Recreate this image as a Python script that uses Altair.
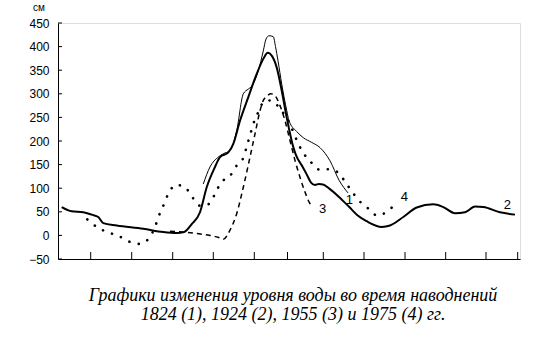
import altair as alt
import pandas as pd

# 1824 (1) thin solid
x1 = [145.3, 152, 160.3, 165.3, 172, 178.7, 185.3, 190.3, 193.7, 200.3, 205.3, 208, 211, 215.3, 217.5, 220, 223.7, 228.7, 231, 238.7, 245.3, 253.7, 262, 272, 281.3, 290]
y1 = [109, 145, 166, 173, 180, 222, 300, 310, 316, 349, 391, 416, 423, 421, 400, 370, 321, 265, 243, 220, 207, 197, 186, 158, 116, 90]

# 1924 (2) thick solid
x2 = [3.7, 13.7, 25.3, 33.7, 40.3, 45.3, 58.7, 85.3, 105.3, 118.7, 126, 133.7, 142, 148.7, 157, 162, 170.3, 175.3, 182, 190.3, 198.7, 205.3, 209.7, 213.7, 218.7, 223.7, 228.7, 235.3, 238, 244.7, 249, 253, 257, 261, 265, 271.3, 281.3, 291.3, 299.7, 308.7, 323.7, 332, 345.3, 358.7, 375.3, 385.3, 397, 407, 417, 425.3, 442, 457]
y2 = [60, 51, 49, 44, 39, 26, 21, 14, 7, 5, 7, 24, 49, 102, 145, 166, 176, 194, 243, 293, 342, 374, 387, 381, 356, 307, 250, 187, 170, 145, 128, 112, 107, 109, 108, 99, 81, 60, 42, 30, 18, 21, 39, 59, 66, 60, 47, 49, 61, 60, 49, 44]

# 1955 (3) dashed
x3 = [112, 125.3, 138.7, 152, 160, 165.3, 172, 178.7, 185.3, 192, 197, 202, 205.3, 208, 213, 217, 222, 227, 232, 237, 242, 247, 251.3, 254.7]
y3 = [9, 7, 4, 0, -4, -8, 11, 46, 102, 166, 215, 264, 286, 293, 300, 296, 275, 243, 201, 159, 123, 92, 70, 60]

# 1975 (4) dotted
x4 = [29.3, 38.7, 49.3, 60.3, 71, 82, 91.3, 97, 101, 105.3, 110.3, 118, 127, 134.3, 142, 151.3, 157, 162.7, 172, 178.7, 185.3, 188.7, 192, 195.3, 200.3, 205.3, 210, 217, 220.3, 225, 230.3, 235.3, 240.3, 245.3, 253, 262, 270, 279.7, 287.3, 294, 301.3, 309.7, 319.3, 329.3, 338]
y4 = [34, 18, 7, -1, -13, -18, -5, 18, 42, 63, 88, 107, 102, 81, 63, 67, 88, 111, 126, 148, 164, 188, 212, 236, 261, 282, 286, 282, 272, 260, 243, 219, 194, 175, 155, 139, 140, 134, 113, 93, 73, 58, 42, 51, 68]

# curve labels
label_text = ["1", "2", "3", "4"]
label_x = [291.3, 449.3, 264.7, 346.3]
label_y = [75, 65, 56, 82]

y_ticks = [-50, 0, 50, 100, 150, 200, 250, 300, 350, 400, 450]
x_ticks = [32.7, 73.7, 114.7, 155.3, 196.3, 229.5, 265.3, 306, 347, 387.7, 428, 459.7]

unit_label = "см"
caption = [
    "Графики изменения уровня воды во время наводнений",
    "1824 (1), 1924 (2), 1955 (3) и 1975 (4) гг.",
]

W, H = 462, 236
xs = alt.Scale(domain=[0, W], nice=False, zero=False)
ys = alt.Scale(domain=[-50, 450], nice=False, zero=False)
NARROW = "Liberation Sans Narrow, Arial Narrow, Liberation Sans, sans-serif"
SERIF = "Liberation Serif, Times New Roman, Times, serif"

X_AXIS = alt.Axis(values=x_ticks, ticks=False, labels=False, grid=False, domain=True,
                  domainColor="black", title=None)
Y_AXIS = alt.Axis(values=y_ticks, ticks=False, grid=False, domain=True, domainColor="black",
                  labelFont=NARROW, labelFontSize=12, labelColor="black", labelPadding=9,
                  title=None)


def line(xv, yv, **kw):
    df = pd.DataFrame({"x": xv, "y": yv})
    return alt.Chart(df).mark_line(color="black", interpolate="monotone", **kw).encode(
        x=alt.X("x:Q", scale=xs, axis=X_AXIS),
        y=alt.Y("y:Q", scale=ys, axis=Y_AXIS),
    )


y_tick_marks = alt.Chart(pd.DataFrame({"v": y_ticks})).mark_rule(color="black", strokeWidth=1).encode(
    x=alt.value(0), x2=alt.value(4),
    y=alt.Y("v:Q", scale=ys, axis=Y_AXIS),
)

x_tick_marks = alt.Chart(pd.DataFrame({"v": x_ticks})).mark_rule(color="black", strokeWidth=1).encode(
    x=alt.X("v:Q", scale=xs, axis=X_AXIS),
    y=alt.value(H), y2=alt.value(H - 7),
)

l1 = line(x1, y1, strokeWidth=1.0)
l2 = line(x2, y2, strokeWidth=2.0)
l3 = line(x3, y3, strokeWidth=1.5, strokeDash=[5, 4])
l4 = line(x4, y4, strokeWidth=2.6, strokeDash=[0.1, 9.5], strokeCap="round")

labels = alt.Chart(pd.DataFrame({"x": label_x, "y": label_y, "t": label_text})).mark_text(
    font=NARROW, fontSize=13, color="black"
).encode(x=alt.X("x:Q", scale=xs, axis=X_AXIS), y=alt.Y("y:Q", scale=ys, axis=Y_AXIS), text="t:N")

unit = alt.Chart(pd.DataFrame({"t": [unit_label]})).mark_text(
    font=NARROW, fontSize=10, color="black"
).encode(x=alt.value(-19), y=alt.value(-15), text="t:N")

cap1 = alt.Chart(pd.DataFrame({"t": [caption[0]]})).mark_text(
    font=SERIF, fontStyle="italic", fontSize=18, color="black", baseline="alphabetic"
).encode(x=alt.value(235), y=alt.value(277.5), text="t:N")

cap2 = alt.Chart(pd.DataFrame({"t": [caption[1]]})).mark_text(
    font=SERIF, fontStyle="italic", fontSize=18, color="black", baseline="alphabetic"
).encode(x=alt.value(235), y=alt.value(297), text="t:N")

chart = alt.layer(y_tick_marks, x_tick_marks, l3, l4, l1, l2, labels, unit, cap1, cap2).properties(
    width=W, height=H,
    autosize=alt.AutoSizeParams(type="none"),
    padding={"left": 58, "top": 23, "right": 30, "bottom": 92},
).configure_view(stroke=None).configure(background="white")

chart.save("out.html", embed_options={"renderer": "svg", "actions": False})
